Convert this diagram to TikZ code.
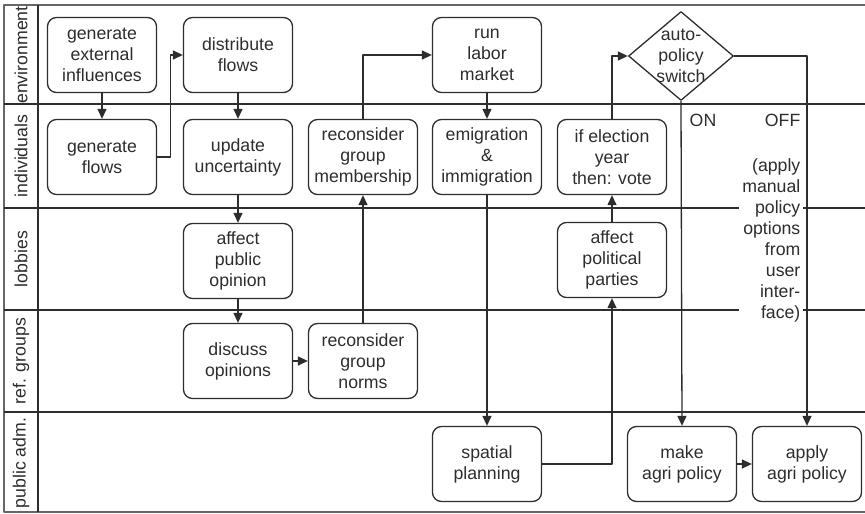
\documentclass[tikz,border=0pt]{standalone}
\usepackage{fontspec}
\setmainfont{Liberation Sans}
\usetikzlibrary{arrows.meta,shapes.geometric}

\definecolor{ink}{RGB}{45,45,45}
\tikzset{
  taskbox/.style={draw, rounded corners=9pt, minimum width=109pt, minimum height=75pt,
    inner sep=0pt, align=center},
  lanelabel/.style={rotate=90, inner sep=0pt},
  flow/.style={-{Triangle[length=10pt,width=9pt]}},
}

\begin{document}
\begin{tikzpicture}[x=1pt, y=-1pt, line width=1.3pt, line join=round, color=ink,
    font=\fontsize{17.7}{21}\selectfont]
  \useasboundingbox (0,0) rectangle (865,514);
  % The pool: outer frame, the five lanes and the column for their names.
  \draw[line width=2pt, gray!80!black] (865,5) -- (4,5) -- (4,512) -- (865,512);
  \foreach \y in {104,208,310,412}
    \draw[line width=1.6pt] (4,\y) -- (865,\y);
  \draw[line width=1.6pt] (38,5) -- (38,512);
  \node[lanelabel] (lenv) at (21,55) {environment};
  \node[lanelabel] (lind) at (21,156) {individuals};
  \node[lanelabel] (llob) at (21,259) {lobbies};
  \node[lanelabel] (lref) at (21,361) {ref. groups};
  \node[lanelabel] (lpub) at (21,463) {public adm.};
  % First two columns.
  \node[taskbox] (extinfl) at (102,55) {generate\\external\\influences};
  \node[taskbox] (genflows) at (102,157) {generate\\flows};
  \node[taskbox] (distflows) at (238,55) {distribute\\flows};
  \node[taskbox] (uncert) at (238,157) {update\\uncertainty};
  \node[taskbox] (pubopin) at (238,261) {affect\\public\\opinion};
  \node[taskbox] (discuss) at (238,361) {discuss\\opinions};
  % Group dynamics and the labour market.
  \node[taskbox] (norms) at (363,361) {reconsider\\group\\norms};
  \node[taskbox] (member) at (363,157) {reconsider\\group\\membership};
  \node[taskbox] (labor) at (487,55) {run\\labor\\market};
  \node[taskbox] (migration) at (487,157) {emigration\\\&\\immigration};
  \node[taskbox] (spatial) at (487,464) {spatial\\planning};
  % Politics: parties, vote, and the policy switch.
  \node[taskbox] (parties) at (612,260) {affect\\political\\parties};
  \node[taskbox] (vote) at (612,157) {if election\\year\\then: vote};
  \node[draw, diamond, minimum width=105pt, minimum height=89pt, inner sep=0pt] (switch) at (681,56) {};
  \node[align=center, inner sep=0pt] (switchtext) at (switch) {auto-\\policy\\switch};
  \node[taskbox] (makepol) at (682,464) {make\\agri policy};
  \node[taskbox] (applypol) at (807,464) {apply\\agri policy};
  % Branch labels; the note blanks out the lane lines behind it.
  \node (on) at (703,120) {ON};
  \node[anchor=east, inner sep=0pt] (off) at (801,120) {OFF};
  \node[anchor=east, fill=white, align=right, inner sep=3pt] (manual) at (804,240)
    {(apply\\manual\\policy\\options\\from\\user\\inter-\\face)};
  % Connectors.
  \draw[flow] (extinfl) -- (genflows);
  \draw[flow] (genflows.east) -- ++(13,0) |- (distflows.west);
  \draw[flow] (distflows) -- (uncert);
  \draw[flow] (uncert) -- (pubopin);
  \draw[flow] (pubopin) -- (discuss);
  \draw[flow] (discuss) -- (norms);
  \draw[flow] (norms) -- (member);
  \draw[flow] (member.north) |- (labor.west);
  \draw[flow] (labor) -- (migration);
  \draw[flow] (migration) -- (spatial);
  \draw[flow] (spatial.east) -| (parties.south);
  \draw[flow] (parties) -- (vote);
  \draw[flow] (vote.north) |- (switch.west);
  \draw[flow] (switch.south) -- (makepol.north);
  \draw[flow] (switch.east) -| (applypol.north);
  \draw[flow] (makepol) -- (applypol);
\end{tikzpicture}
\end{document}
